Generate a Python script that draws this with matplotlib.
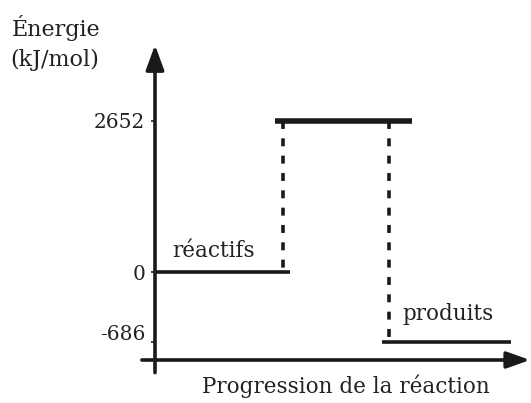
import numpy as np
import matplotlib
matplotlib.use("Agg")
import matplotlib.pyplot as plt
import matplotlib.transforms as mtransforms

# --- données du diagramme ---
etats = ["réactifs", "état de transition", "produits"]
energies = [0, 2652, -686]          # kJ/mol
tick_labels = ["0", "2652", "-686"]
x_debut = [0.0, 0.32, 0.605]        # progression (fraction de l'axe)
x_fin = [0.36, 0.685, 0.95]

# échelle non proportionnelle : le dessin n'est pas à l'échelle sous 0
k_haut = 151 / 2652
k_bas = 70 / 686

def fwd(e):
    e = np.asarray(e, dtype=float)
    return np.where(e >= 0, e * k_haut, e * k_bas)

def inv(t):
    t = np.asarray(t, dtype=float)
    return np.where(t >= 0, t / k_haut, t / k_bas)

plt.rcParams['font.family'] = ['DejaVu Serif']

W, H = 531, 403
fig = plt.figure(figsize=(W / 100, H / 100), dpi=100)
ax = fig.add_axes([155 / W, (H - 360) / H, (530 - 155) / W, (360 - 45) / H])
ax.set_yscale('function', functions=(fwd, inv))
ax.set_xlim(0, 1)
ax.set_ylim(inv(-88), inv(227))
for s in ax.spines.values():
    s.set_visible(False)
ax.set_xticks([])
ax.set_yticks(energies)
ax.set_yticklabels(tick_labels, fontsize=14.5, color='#222222')
ax.tick_params(axis='y', length=3, width=1.2, pad=4, color='#222222')

# le libellé -686 est un peu au-dessus de son niveau
lab = ax.get_yticklabels()[2]
lab.set_transform(lab.get_transform() +
                  mtransforms.ScaledTranslation(0, 10 / 100, fig.dpi_scale_trans))

col = '#1a1a1a'
# axes fléchés
ax.annotate('', xy=(0, 1.0), xytext=(0, -0.04), xycoords='axes fraction',
            arrowprops=dict(arrowstyle='-|>,head_length=1.5,head_width=0.55',
                            lw=2.6, color=col, shrinkA=0, shrinkB=0),
            annotation_clip=False)
ax.annotate('', xy=(1.0, 0), xytext=(-0.035, 0), xycoords='axes fraction',
            arrowprops=dict(arrowstyle='-|>,head_length=1.4,head_width=0.5',
                            lw=2.6, color=col, shrinkA=0, shrinkB=0),
            annotation_clip=False)

# niveaux d'énergie
lws = [2.6, 4.0, 2.6]
for x0, x1, e, lw in zip(x_debut, x_fin, energies, lws):
    ax.plot([x0, x1], [e, e], color=col, lw=lw, solid_capstyle='butt')

# pointillés verticaux
ax.plot([0.34, 0.34], [energies[1], energies[0]], color=col, lw=2.6,
        dashes=(2.2, 2.6))
ax.plot([0.625, 0.625], [energies[1], energies[2]], color=col, lw=2.6,
        dashes=(2.2, 2.6))

txt = dict(fontsize=15.5, color='#222222')
ax.text(0.045, 263, etats[0], ha='left', va='baseline', **txt)
ax.text(0.66, -470, etats[2], ha='left', va='baseline', **txt)

fig.text(12 / W, 1 - 28 / H, "Énergie", ha='left', va='center', fontsize=16,
         color='#222222')
fig.text(10 / W, 1 - 60 / H, "(kJ/mol)", ha='left', va='center', fontsize=16,
         color='#222222')
fig.text(346 / W, 1 - 386 / H, "Progression de la réaction", ha='center',
         va='center', **txt)

fig.savefig("out.png", dpi=100)
